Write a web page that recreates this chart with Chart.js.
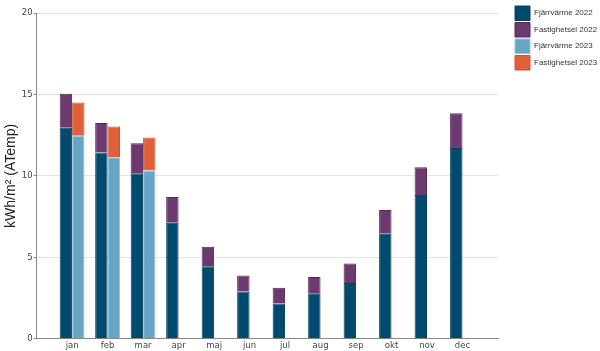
<!DOCTYPE html>
<html>
<head>
<meta charset="utf-8">
<script src="https://cdn.jsdelivr.net/npm/chart.js@4"></script>
<style>
  html, body { margin: 0; padding: 0; background: #fff; }
  #wrap { width: 600px; height: 351px; }
</style>
</head>
<body>
<div id="wrap"><canvas id="chart" width="600" height="351"></canvas></div>
<script>
const months = ['', 'jan', 'feb', 'mar', 'apr', 'maj', 'jun', 'jul', 'aug', 'sep', 'okt', 'nov', 'dec', ''];
const fjarr2022 = [null, 12.95, 11.43, 10.17, 7.12, 4.45, 2.9, 2.16, 2.79, 3.43, 6.45, 8.82, 11.71, null];
const el2022 = [null, 2.1, 1.82, 1.83, 1.59, 1.2, 0.98, 0.98, 1.01, 1.2, 1.45, 1.71, 2.13, null];
const fjarr2023 = [null, 12.47, 11.14, 10.33, null, null, null, null, null, null, null, null, null, null];
const el2023 = [null, 2.04, 1.9, 2.02, null, null, null, null, null, null, null, null, null, null];
const yTicks = [0, 5, 10, 15, 20];

// keep the legend column a fixed width and push the swatches right of the plot
const legendSpace = {
    id: 'legendSpace',
    beforeUpdate(chart) {
        const legend = chart.legend;
        if (legend && !legend._patched) {
            const fit = legend.fit;
            legend.fit = function () {
                fit.call(this);
                this.width = 102;
            };
            legend._patched = true;
        }
    },
    beforeDraw(chart) {
        chart.legend.left = chart.chartArea.right + 15;
        chart.legend.top = 4;
    }
};

const ctx = document.getElementById('chart');

new Chart(ctx, {
    type: 'bar',
    data: {
        labels: months,
        datasets: [
            { label: 'Fjärrvärme 2022', data: fjarr2022, stack: '2022', backgroundColor: '#004a6f', borderColor: '#0b3f5c', borderWidth: 1 },
            { label: 'Fastighetsel 2022', data: el2022, stack: '2022', backgroundColor: '#6d3a70', borderColor: '#552858', borderWidth: 1 },
            { label: 'Fjärrvärme 2023', data: fjarr2023, stack: '2023', backgroundColor: '#66a6c4', borderColor: '#9cc6da', borderWidth: 1 },
            { label: 'Fastighetsel 2023', data: el2023, stack: '2023', backgroundColor: '#e0603a', borderColor: '#d2502a', borderWidth: 1 }
        ]
    },
    options: {
        responsive: false,
        animation: false,
        categoryPercentage: 0.7,
        barPercentage: 1,
        layout: { padding: { top: 13, right: 0, left: 3, bottom: 0 } },
        scales: {
            x: {
                offset: false,
                grid: { display: false, drawTicks: true, tickLength: 2, color: '#999' },
                border: { color: '#888', width: 1 },
                ticks: {
                    autoSkip: false,
                    maxRotation: 0,
                    padding: 0,
                    color: '#444',
                    font: { family: 'DejaVu Sans', size: 8.5 }
                }
            },
            y: {
                stacked: true,
                min: 0,
                max: 20,
                afterBuildTicks: function (axis) {
                    axis.ticks = yTicks.map(v => ({ value: v }));
                },
                grid: { color: '#e4e4e4', tickLength: 3, tickColor: '#888' },
                border: { color: '#888', width: 1 },
                ticks: {
                    padding: 1,
                    color: '#444',
                    font: { family: 'DejaVu Sans', size: 8.5 }
                },
                title: {
                    display: true,
                    text: 'kWh/m² (ATemp)',
                    color: '#222',
                    padding: { top: 0, bottom: 1 },
                    font: { family: 'Liberation Sans', size: 14 }
                }
            }
        },
        plugins: {
            legend: {
                position: 'right',
                align: 'start',
                labels: {
                    boxWidth: 15,
                    boxHeight: 14.5,
                    padding: 2,
                    color: '#333',
                    font: { family: 'Liberation Sans', size: 8 }
                }
            },
            tooltip: { enabled: false }
        }
    },
    plugins: [legendSpace]
});
</script>
</body>
</html>
